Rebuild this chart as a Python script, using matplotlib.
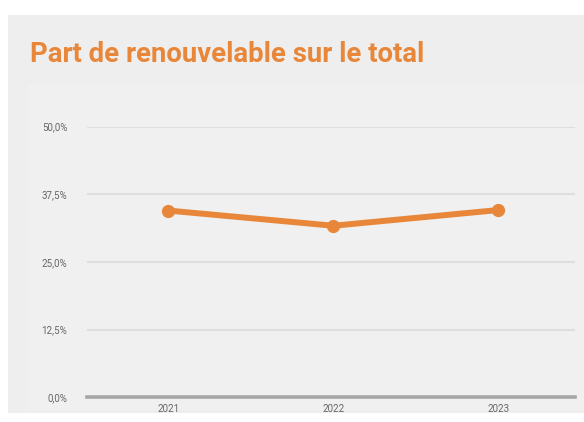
import matplotlib
matplotlib.use("Agg")
import matplotlib.pyplot as plt
from matplotlib.patches import Rectangle
from matplotlib.ticker import FuncFormatter

title = "Part de renouvelable sur le total"
years = ["2021", "2022", "2023"]
share = [34.5, 31.7, 34.6]
yticks = [0, 12.5, 25, 37.5, 50]

W, H = 584, 422
fig = plt.figure(figsize=(W / 100, H / 100), dpi=100, facecolor="white")

def px(x0, y0, x1, y1):
    return [x0 / W, 1 - y1 / H, (x1 - x0) / W, (y1 - y0) / H]

# outer grey card and inner panel
fig.patches.append(Rectangle((8 / W, 1 - 413 / H), (W - 8) / W, (413 - 15) / H,
                             transform=fig.transFigure, facecolor="#eeeeee",
                             edgecolor="none", zorder=-10))
fig.patches.append(Rectangle((28 / W, 1 - 410 / H), (W - 28) / W, (410 - 85) / H,
                             transform=fig.transFigure, facecolor="#eff0ef",
                             edgecolor="none", zorder=-9))

fig.text(30 / W, 1 - 61.7 / H, title, color="#e8873a", fontsize=19.8,
         fontweight="bold", family=["Roboto", "DejaVu Sans"],
         ha="left", va="baseline")

ax = fig.add_axes(px(86.7, 126.7, 575, 397.3))
ax.set_facecolor("none")
x = list(range(len(years)))
ax.plot(x, share, color="#e8873a", lw=4.3, marker="o", ms=8.5,
        solid_capstyle="round", zorder=3, clip_on=False)
ax.set_xlim(-0.495, 2.465)
ax.set_ylim(0, 50)
ax.set_yticks(yticks)
ax.yaxis.set_major_formatter(FuncFormatter(lambda v, p: f"{v:.1f}%".replace(".", ",")))
ax.set_xticks(x)
ax.set_xticklabels(years)
ax.grid(axis="y", color="#dedede", lw=1.6)
ax.grid(axis="x", visible=False)
for s in ["top", "right", "left"]:
    ax.spines[s].set_visible(False)
ax.spines["bottom"].set_color("#a6a6a6")
ax.spines["bottom"].set_linewidth(2.6)
ax.spines["bottom"].set_zorder(2.5)
ax.tick_params(axis="both", length=0, labelsize=7, colors="#666666",
               labelfontfamily="Roboto")
ax.tick_params(axis="y", pad=14)
ax.tick_params(axis="x", pad=4.5)

fig.savefig("out.png", dpi=100, facecolor="white")
